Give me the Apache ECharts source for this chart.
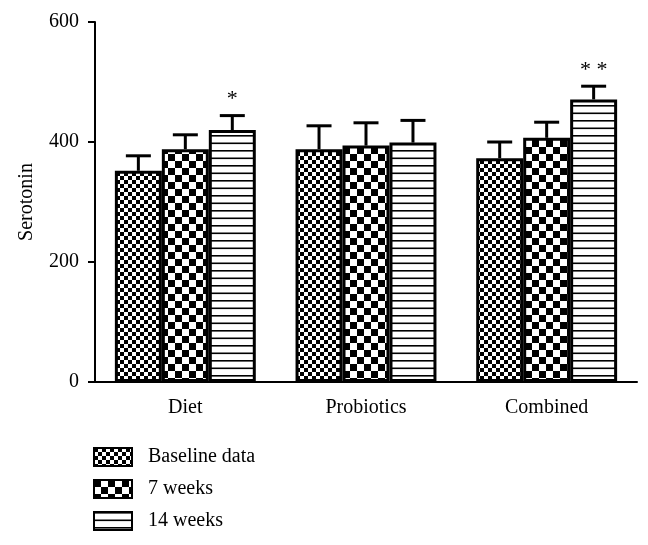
<!DOCTYPE html>
<html>
<head>
<meta charset="utf-8">
<script src="https://cdn.jsdelivr.net/npm/echarts@6/dist/echarts.min.js"></script>
<style>html,body{margin:0;padding:0;background:#fff}#c{width:648px;height:545px}</style>
</head>
<body>
<div id="c"></div>
<script>
const categories = ['Diet', 'Probiotics', 'Combined'];
const seriesNames = ['Baseline data', '7 weeks', '14 weeks'];
const baseline = [352, 388, 373];
const week7 = [388, 394, 407];
const week14 = [420, 399, 471];
const baselineErr = [25, 39, 27];
const week7Err = [24, 38, 26];
const week14Err = [24, 37, 22];
const baselineSig = ['', '', ''];
const week7Sig = ['', '', ''];
const week14Sig = ['*', '', '**'];
const yTicks = [0, 200, 400, 600];

const FONT = 'Liberation Serif';

function pattern(kind) {
  const c = document.createElement('canvas');
  let ctx;
  if (kind === 0) {
    c.width = 8; c.height = 8; ctx = c.getContext('2d');
    ctx.fillStyle = '#fff'; ctx.fillRect(0, 0, 8, 8);
    ctx.fillStyle = '#000'; ctx.fillRect(0, 0, 4, 4); ctx.fillRect(4, 4, 4, 4);
  } else if (kind === 1) {
    c.width = 14; c.height = 14; ctx = c.getContext('2d');
    ctx.fillStyle = '#fff'; ctx.fillRect(0, 0, 14, 14);
    ctx.fillStyle = '#000'; ctx.fillRect(0, 0, 7, 7); ctx.fillRect(7, 7, 7, 7);
  } else {
    c.width = 4; c.height = 15; ctx = c.getContext('2d');
    ctx.fillStyle = '#fff'; ctx.fillRect(0, 0, 4, 15);
    ctx.fillStyle = '#000'; ctx.fillRect(0, 0, 4, 1.6); ctx.fillRect(0, 7.5, 4, 1.6);
  }
  return { image: c, repeat: 'repeat' };
}

const GAP = 0.22;
const means = [baseline, week7, week14];
const errs = [baselineErr, week7Err, week14Err];
const sigs = [baselineSig, week7Sig, week14Sig];

const barSeries = means.map((m, k) => ({
  name: seriesNames[k],
  type: 'bar',
  data: m,
  barGap: '0%',
  barCategoryGap: (GAP * 100) + '%',
  itemStyle: { color: pattern(k), borderColor: '#000', borderWidth: 3 },
  z: 2
}));

const errSeries = means.map((m, k) => ({
  type: 'custom',
  z: 3,
  silent: true,
  data: m.map((v, i) => [i, v + errs[k][i], v, sigs[k][i]]),
  renderItem: function (params, api) {
    const cat = api.value(0);
    const top = api.value(1);
    const base = api.value(2);
    const p0 = api.coord([cat, base]);
    const p1 = api.coord([cat, top]);
    const band = api.size([1, 0])[0];
    const bw = band * (1 - GAP) / 3;
    const x = p0[0] + (k - 1) * bw;
    const capHalf = 12.5;
    const sig = sigs[k][params.dataIndex];
    const children = [
      { type: 'line', shape: { x1: x, y1: p0[1], x2: x, y2: p1[1] }, style: { stroke: '#000', lineWidth: 3 } },
      { type: 'line', shape: { x1: x - capHalf, y1: p1[1], x2: x + capHalf, y2: p1[1] }, style: { stroke: '#000', lineWidth: 3 } }
    ];
    if (sig) {
      children.push({ type: 'text', style: { text: sig.split('').join(' '), x: x, y: p1[1] - 5, align: 'center', verticalAlign: 'bottom', font: '22px "' + FONT + '"', fill: '#000' } });
    }
    return { type: 'group', children: children };
  }
}));

const chart = echarts.init(document.getElementById('c'), null, { renderer: 'canvas' });
chart.setOption({
  animation: false,
  backgroundColor: '#fff',
  grid: { left: 95, right: 11, top: 22, bottom: 163, containLabel: false },
  legend: {
    orient: 'vertical',
    left: 88,
    top: 442,
    itemWidth: 38,
    itemHeight: 18,
    itemGap: 12,
    icon: 'rect',
    data: seriesNames,
    textStyle: { fontFamily: FONT, fontSize: 20, color: '#000', padding: [0, 0, 0, 11] }
  },
  xAxis: {
    type: 'category',
    data: categories,
    axisLine: { lineStyle: { color: '#000', width: 2 } },
    axisTick: { alignWithLabel: true, length: 6, lineStyle: { color: '#000', width: 2 } },
    axisLabel: { fontFamily: FONT, fontSize: 20, color: '#000', margin: 16 }
  },
  yAxis: {
    type: 'value',
    min: 0,
    max: 600,
    interval: 200,
    name: 'Serotonin',
    nameLocation: 'middle',
    nameGap: 58,
    nameTextStyle: { fontFamily: FONT, fontSize: 20, color: '#000' },
    axisLine: { show: true, lineStyle: { color: '#000', width: 2 } },
    axisTick: { show: true, length: 7, lineStyle: { color: '#000', width: 2 } },
    axisLabel: { fontFamily: FONT, fontSize: 20, color: '#000', margin: 16,
      formatter: v => yTicks.indexOf(v) >= 0 ? String(v) : '' },
    splitLine: { show: false }
  },
  series: barSeries.concat(errSeries)
});
</script>
</body>
</html>
